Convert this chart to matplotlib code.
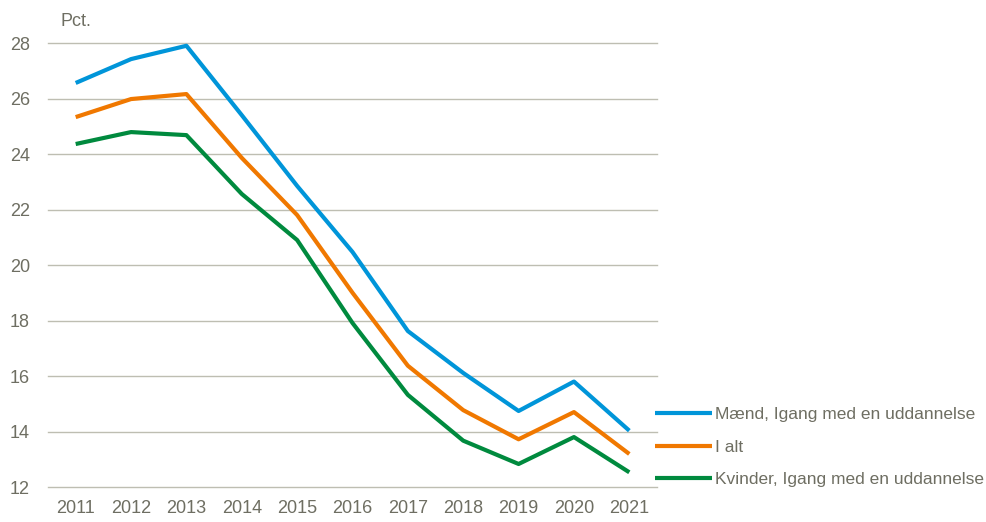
import matplotlib
matplotlib.use("Agg")
import matplotlib.pyplot as plt

years = [2011, 2012, 2013, 2014, 2015, 2016, 2017, 2018, 2019, 2020, 2021]
maend = [26.56, 27.42, 27.9, 25.4, 22.85, 20.47, 17.62, 16.11, 14.74, 15.8, 14.03]
i_alt = [25.33, 25.98, 26.16, 23.86, 21.8, 19.0, 16.37, 14.77, 13.72, 14.7, 13.19]
kvinder = [24.36, 24.79, 24.68, 22.56, 20.9, 17.91, 15.32, 13.67, 12.83, 13.8, 12.53]
labels = ["Mænd, Igang med en uddannelse", "I alt", "Kvinder, Igang med en uddannelse"]
colors = ["#0095D9", "#F07800", "#008A3E"]
yticks = [12, 14, 16, 18, 20, 22, 24, 26, 28]

plt.rcParams['font.family'] = ['Liberation Sans', 'DejaVu Sans']
text_col = "#6E6E62"
grid_col = "#BEBEB2"

fig = plt.figure(figsize=(9.86, 5.22), dpi=100)
ax = fig.add_axes([48/986, 33.6/522, 609/986, 445.4/522])

for vals, lab, col in zip([maend, i_alt, kvinder], labels, colors):
    ax.plot(years, vals, color=col, lw=3, label=lab, solid_capstyle='butt')

ax.set_xlim(2010.5, 2021.5)
ax.set_ylim(11.95, 28)
ax.set_yticks(yticks)
ax.set_xticks(years)
ax.set_xticklabels([str(y) for y in years])
ax.yaxis.grid(True, color=grid_col, lw=1)
for gl in ax.get_ygridlines():
    gl.set_clip_on(False)
ax.set_axisbelow(True)
for s in ax.spines.values():
    s.set_visible(False)
ax.tick_params(axis='both', length=0, labelsize=13, colors=text_col)
ax.tick_params(axis='y', pad=13)
ax.tick_params(axis='x', pad=8.6)

ax.text(60/986, 1 - 22/522, "Pct.", transform=fig.transFigure, fontsize=13,
        color=text_col, ha='left', va='center')

leg = ax.legend(loc='center left', bbox_to_anchor=(0.997, 1 - (447-43)/445.4),
                frameon=False, fontsize=12.5, handlelength=3.3, handletextpad=0.15,
                labelspacing=1.0, borderpad=0, borderaxespad=0)
for t in leg.get_texts():
    t.set_color(text_col)

fig.savefig("out.png", dpi=100)
